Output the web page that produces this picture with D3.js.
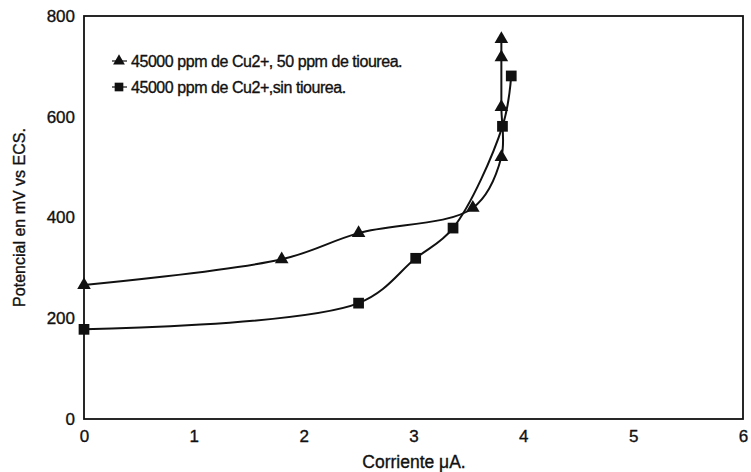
<!DOCTYPE html>
<html>
<head>
<meta charset="utf-8">
<script src="https://cdn.jsdelivr.net/npm/d3@7"></script>
<style>
  html, body { margin: 0; padding: 0; background: #fff; }
  svg text { font-family: "Liberation Sans", Arial, sans-serif; fill: #111; stroke: #111; stroke-width: 0.35px; }
</style>
</head>
<body>
<svg id="chart" width="751" height="472"></svg>
<script>
// Current (µA) and potential (mV vs ECS) readings for each solution
const tioureaCurrent = [0, 1.8, 2.5, 3.54, 3.8, 3.8, 3.8, 3.8];
const tioureaPotential = [266, 317, 369, 419, 520, 619, 718, 754];
const sinTioureaCurrent = [0, 2.5, 3.02, 3.36, 3.81, 3.89];
const sinTioureaPotential = [178, 230, 319, 379, 581, 681];

const seriesNames = [
  "45000 ppm de Cu2+, 50 ppm de tiourea.",
  "45000 ppm de Cu2+,sin tiourea."
];
const xTicks = [0, 1, 2, 3, 4, 5, 6];
const yTicks = [0, 200, 400, 600, 800];
const xTitle = "Corriente \u03bcA.";
const yTitle = "Potencial en mV vs ECS.";

const svg = d3.select("#chart");
const margin = { left: 84, right: 8, top: 16, bottom: 53 };
const W = 751, H = 472;

const x = d3.scaleLinear().domain([0, 6]).range([margin.left, W - margin.right]);
const y = d3.scaleLinear().domain([0, 800]).range([H - margin.bottom, margin.top]);

// plot frame
svg.append("rect")
  .attr("x", x(0)).attr("y", y(800))
  .attr("width", x(6) - x(0)).attr("height", y(0) - y(800))
  .attr("fill", "none").attr("stroke", "#111").attr("stroke-width", 1.8);

// axes (labels only, no tick marks)
const xAxis = svg.append("g")
  .attr("transform", `translate(0,${y(0)})`)
  .call(d3.axisBottom(x).tickValues(xTicks).tickSize(0).tickPadding(11).tickFormat(d3.format("d")));
const yAxis = svg.append("g")
  .attr("transform", `translate(${x(0)},0)`)
  .call(d3.axisLeft(y).tickValues(yTicks).tickSize(0).tickPadding(9).tickFormat(d3.format("d")));
[xAxis, yAxis].forEach(g => {
  g.select(".domain").remove();
  g.selectAll("text")
    .attr("font-size", 17)
    .attr("font-family", "Liberation Sans, Arial, sans-serif")
    .attr("fill", "#111");
});

// axis titles
svg.append("text")
  .attr("x", 414).attr("y", 468)
  .attr("text-anchor", "middle").attr("font-size", 17.5)
  .text(xTitle);
svg.append("text")
  .attr("transform", `translate(25,${(y(0) + y(800)) / 2}) rotate(-90)`)
  .attr("text-anchor", "middle").attr("font-size", 16)
  .text(yTitle);

const line = d3.line()
  .x(d => x(d[0])).y(d => y(d[1]))
  .curve(d3.curveCatmullRom.alpha(0.5));

const tioureaPts = tioureaCurrent.map((c, i) => [c, tioureaPotential[i]]);
const sinPts = sinTioureaCurrent.map((c, i) => [c, sinTioureaPotential[i]]);

svg.append("path").datum(tioureaPts).attr("d", line)
  .attr("fill", "none").attr("stroke", "#111").attr("stroke-width", 2);
svg.append("path").datum(sinPts).attr("d", line)
  .attr("fill", "none").attr("stroke", "#111").attr("stroke-width", 2);

const tri = d3.symbol().type(d3.symbolTriangle).size(80);
const sq = d3.symbol().type(d3.symbolSquare).size(115);

svg.append("g").selectAll("path").data(tioureaPts).join("path")
  .attr("d", tri)
  .attr("transform", d => `translate(${x(d[0])},${y(d[1])})`)
  .attr("fill", "#111");
svg.append("g").selectAll("path").data(sinPts).join("path")
  .attr("d", sq)
  .attr("transform", d => `translate(${x(d[0])},${y(d[1])})`)
  .attr("fill", "#111");

// legend: short line stub, marker and series name
const legend = svg.append("g");
const legendRows = [
  { name: seriesNames[0], type: d3.symbolTriangle, size: 60, y: 61 },
  { name: seriesNames[1], type: d3.symbolSquare, size: 75, y: 87 }
];
legendRows.forEach(r => {
  legend.append("line")
    .attr("x1", 112).attr("x2", 127).attr("y1", r.y).attr("y2", r.y)
    .attr("stroke", "#111").attr("stroke-width", 1.2);
  legend.append("path")
    .attr("d", d3.symbol().type(r.type).size(r.size)())
    .attr("transform", `translate(119,${r.y})`).attr("fill", "#111");
  legend.append("text").attr("x", 131).attr("y", r.y + 6)
    .attr("font-size", 16).attr("letter-spacing", -0.45)
    .text(r.name);
});
</script>
</body>
</html>
